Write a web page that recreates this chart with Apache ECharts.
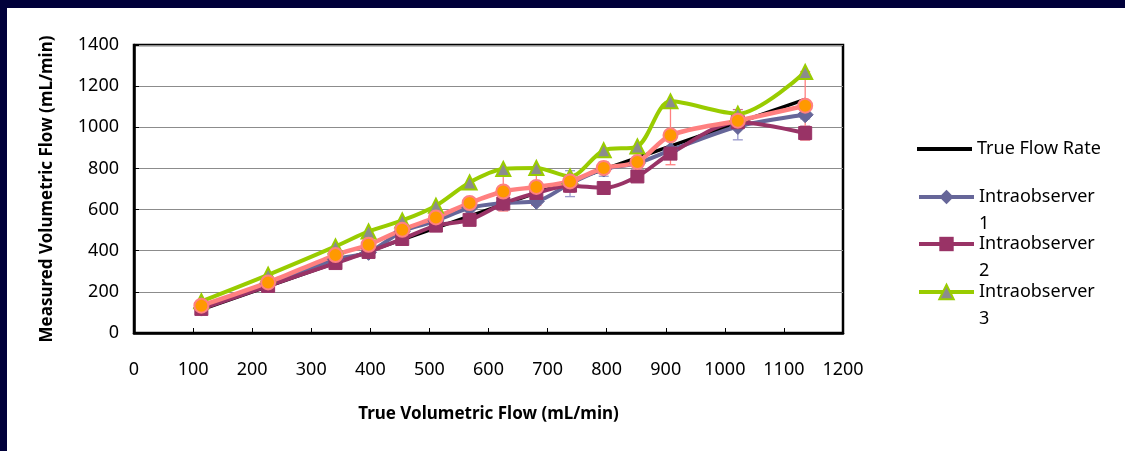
<!DOCTYPE html>
<html>
<head>
<meta charset="utf-8">
<script src="https://cdn.jsdelivr.net/npm/echarts@6/dist/echarts.min.js"></script>
<style>
  html, body { margin: 0; padding: 0; background: #00003a; }
  #chart { position: absolute; left: 7px; top: 8px; width: 1118px; height: 443px; background: #fff; }
</style>
</head>
<body>
<div id="chart"></div>
<script>
// true flow (mL/min)
var trueFlow = [114, 227, 341, 397, 454, 511, 568, 625, 681, 738, 795, 852, 908, 1022, 1136];
var obs1 = [121, 240, 358, 392, 494, 545, 608, 632, 640, 726, 797, 826, 888, 1004, 1061];
var obs2 = [117, 229, 340, 394, 457, 522, 550, 629, 681, 716, 705, 761, 872, 1025, 972];
var obs3 = [154, 283, 421, 494, 547, 619, 732, 797, 802, 761, 888, 907, 1126, 1066, 1269];
var meanObs = [133, 246, 379, 429, 502, 562, 632, 688, 710, 737, 802, 831, 961, 1032, 1105];
// error bar half widths
var errMean = [0, 0, 0, 0, 0, 0, 0, 95, 90, 0, 0, 0, 143, 0, 166];
var errObs1 = [0, 0, 0, 0, 0, 0, 0, 0, 0, 63, 35, 25, 0, 65, 20];
var errObs2 = [0, 0, 0, 0, 0, 0, 0, 0, 0, 30, 0, 20, 0, 0, 33];
var errObs3 = [0, 0, 0, 0, 0, 0, 0, 0, 0, 0, 0, 0, 0, 20, 0];
var xTicks = [0, 1200, 100];
var yTicks = [0, 1400, 200];

var FONT = 'Noto Sans';

function pairs(ys) {
    return trueFlow.map(function (x, i) { return [x, ys[i]]; });
}
function errData(ys, errs) {
    var out = [];
    for (var i = 0; i < ys.length; i++) {
        if (errs[i] > 0) out.push([trueFlow[i], ys[i], errs[i]]);
    }
    return out;
}
function errSeries(ys, errs, color) {
    return {
        type: 'custom',
        silent: true,
        data: errData(ys, errs),
        renderItem: function (params, api) {
            var x = api.value(0), y = api.value(1), e = api.value(2);
            var hi = api.coord([x, y + e]);
            var lo = api.coord([x, y - e]);
            var style = { stroke: color, lineWidth: 1.3 };
            return {
                type: 'group',
                children: [
                    { type: 'line', shape: { x1: hi[0], y1: hi[1], x2: lo[0], y2: lo[1] }, style: style },
                    { type: 'line', shape: { x1: hi[0] - 5, y1: hi[1], x2: hi[0] + 5, y2: hi[1] }, style: style },
                    { type: 'line', shape: { x1: lo[0] - 5, y1: lo[1], x2: lo[0] + 5, y2: lo[1] }, style: style }
                ]
            };
        }
    };
}
// one legend per entry so each can sit where the original puts it
function legendAt(name, top, twoLine) {
    var item = { name: name };
    var lg = {
        orient: 'vertical',
        left: 910,
        top: top,
        padding: 0,
        itemWidth: 55,
        itemHeight: 18,
        itemGap: 0,
        lineStyle: { width: 4 },
        textStyle: { fontFamily: FONT, fontSize: 18, color: '#000', lineHeight: 27 },
        // blank first line keeps "Intraobserver" level with the icon
        formatter: function (n) { return twoLine ? n.replace(/^(.*) (\d)$/, '\n$1\n$2') : n; },
        data: [item]
    };
    if (!twoLine) {
        item.icon = 'rect';
        lg.itemHeight = 4;
    }
    return lg;
}
function plain(v) { return String(v); }

var chart = echarts.init(document.getElementById('chart'));
var option = {
    animation: false,
    backgroundColor: '#fff',
    legend: [
        legendAt('True Flow Rate', 127.5, false),
        legendAt('Intraobserver 1', 148.5, true),
        legendAt('Intraobserver 2', 195.5, true),
        legendAt('Intraobserver 3', 243.5, true)
    ],
    grid: {
        left: 127, right: 282, top: 37, bottom: 118,
        show: true, borderColor: '#000', borderWidth: 2.5
    },
    xAxis: {
        type: 'value',
        min: xTicks[0], max: xTicks[1], interval: xTicks[2],
        name: 'True Volumetric Flow (mL/min)',
        nameLocation: 'middle',
        nameGap: 73,
        nameTextStyle: { fontFamily: FONT, fontSize: 17, fontWeight: 'bold', color: '#000' },
        axisLine: { lineStyle: { color: '#000', width: 2.5 } },
        axisTick: { inside: true, length: 5, lineStyle: { color: '#000' } },
        axisLabel: { fontFamily: FONT, fontSize: 18, color: '#000', margin: 28, formatter: plain },
        splitLine: { show: false }
    },
    yAxis: {
        type: 'value',
        min: yTicks[0], max: yTicks[1], interval: yTicks[2],
        name: 'Measured Volumetric Flow (mL/min)',
        nameLocation: 'middle',
        nameGap: 78,
        nameTextStyle: { fontFamily: FONT, fontSize: 17, fontWeight: 'bold', color: '#000' },
        axisLine: { show: true, lineStyle: { color: '#000', width: 2.5 } },
        axisTick: { show: true, inside: true, length: 5, lineStyle: { color: '#000' } },
        axisLabel: { fontFamily: FONT, fontSize: 18, color: '#000', margin: 15, formatter: plain },
        splitLine: { lineStyle: { color: '#8c8c8c', width: 1.2 } }
    },
    series: [
        errSeries(obs1, errObs1, '#9999cc'),
        errSeries(obs2, errObs2, '#993366'),
        errSeries(obs3, errObs3, '#cc6699'),
        errSeries(meanObs, errMean, '#ff8080'),
        {
            name: 'True Flow Rate',
            type: 'line',
            data: pairs(trueFlow),
            showSymbol: false,
            symbol: 'none',
            lineStyle: { color: '#000', width: 3.5 },
            itemStyle: { color: '#000' }
        },
        {
            name: 'Intraobserver 1',
            type: 'line',
            data: pairs(obs1),
            smooth: 0.3,
            symbol: 'diamond',
            symbolSize: 16,
            lineStyle: { color: '#666699', width: 4 },
            itemStyle: { color: '#666699', borderColor: '#666699' }
        },
        {
            name: 'Intraobserver 2',
            type: 'line',
            data: pairs(obs2),
            smooth: 0.3,
            symbol: 'rect',
            symbolSize: 13,
            lineStyle: { color: '#993366', width: 4 },
            itemStyle: { color: '#993366', borderColor: '#993366' }
        },
        {
            name: 'Intraobserver 3',
            type: 'line',
            data: pairs(obs3),
            smooth: 0.3,
            symbol: 'triangle',
            symbolSize: 14,
            lineStyle: { color: '#99cc00', width: 4 },
            itemStyle: { color: '#8c8c8c', borderColor: '#99cc00', borderWidth: 2 }
        },
        {
            name: 'Mean',
            type: 'line',
            data: pairs(meanObs),
            smooth: 0.3,
            symbol: 'circle',
            symbolSize: 14,
            lineStyle: { color: '#ff8080', width: 4.5 },
            itemStyle: { color: '#ff9900', borderColor: '#ff8080', borderWidth: 2 }
        }
    ]
};
chart.setOption(option, true);
</script>
</body>
</html>
